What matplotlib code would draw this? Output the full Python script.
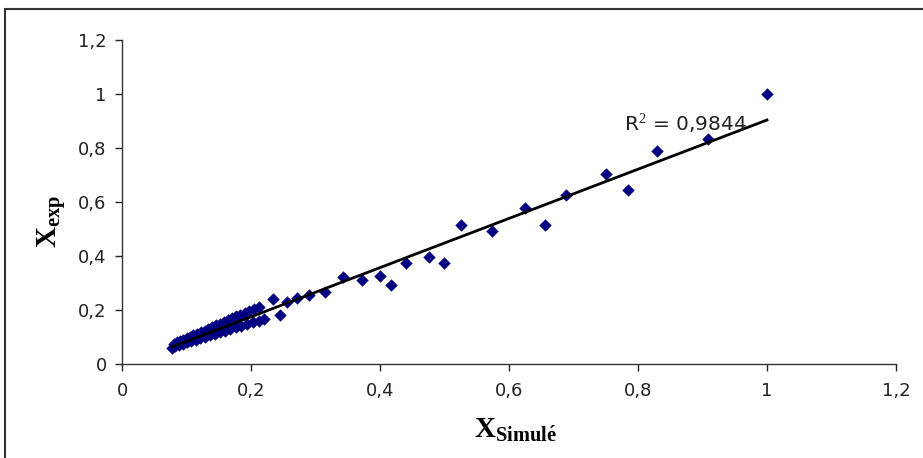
import numpy as np
import matplotlib
matplotlib.use("Agg")
from matplotlib import pyplot as plt
from matplotlib.patches import Rectangle

plt.rcParams['font.family'] = ['DejaVu Sans']
plt.rcParams['mathtext.fontset'] = 'custom'
plt.rcParams['mathtext.rm'] = 'Liberation Serif'
plt.rcParams['mathtext.bf'] = 'Liberation Serif:bold'

# dense cluster, upper and lower branch
x_upper = [0.080, 0.085, 0.090, 0.095, 0.100, 0.105, 0.110, 0.116, 0.122, 0.128, 0.134, 0.140,
           0.146, 0.152, 0.158, 0.164, 0.170, 0.176, 0.183, 0.190, 0.197, 0.205, 0.213]
y_upper = [0.075, 0.080, 0.085, 0.090, 0.095, 0.100, 0.106, 0.112, 0.118, 0.124, 0.130, 0.137,
           0.143, 0.150, 0.156, 0.163, 0.169, 0.176, 0.183, 0.190, 0.196, 0.203, 0.210]
x_lower = [0.078, 0.082, 0.088, 0.094, 0.100, 0.107, 0.114, 0.121, 0.128, 0.136, 0.144, 0.152,
           0.160, 0.168, 0.176, 0.185, 0.194, 0.203, 0.212, 0.220]
y_lower = [0.060, 0.065, 0.070, 0.075, 0.080, 0.085, 0.090, 0.095, 0.100, 0.106, 0.112, 0.118,
           0.124, 0.130, 0.136, 0.142, 0.149, 0.155, 0.161, 0.167]
# scattered points
x_rest = [0.234, 0.245, 0.256, 0.271, 0.290, 0.315, 0.343, 0.372, 0.400, 0.417, 0.440, 0.476,
          0.499, 0.525, 0.574, 0.625, 0.656, 0.688, 0.750, 0.784, 0.829, 0.909, 1.000]
y_rest = [0.242, 0.180, 0.230, 0.245, 0.254, 0.267, 0.322, 0.311, 0.326, 0.293, 0.374, 0.396,
          0.374, 0.515, 0.493, 0.578, 0.515, 0.626, 0.704, 0.644, 0.789, 0.833, 1.000]

ticks = [0, 0.2, 0.4, 0.6, 0.8, 1.0, 1.2]
tick_labels = ['0', '0,2', '0,4', '0,6', '0,8', '1', '1,2']

x_sim = np.array(x_upper + x_lower + x_rest)
x_exp = np.array(y_upper + y_lower + y_rest)

fig = plt.figure(figsize=(9.23, 4.58), dpi=100)
ax = fig.add_axes([0.1322, 0.2052, 0.8385, 0.7075])

ax.scatter(x_sim, x_exp, marker='D', s=40, color='#000080', zorder=3, linewidths=0)

# linear trend line
a, b = np.polyfit(x_sim, x_exp, 1)
xl = np.array([x_sim.min(), x_sim.max()])
ax.plot(xl, a * xl + b, color='black', lw=2, zorder=4)
ax.text(0.778, 0.892, 'R$^2$ = 0,9844', fontsize=14.5, color='#222222', va='center', ha='left',
        zorder=5, family='DejaVu Sans')

ax.set_xlim(0, 1.2)
ax.set_ylim(0, 1.2)
ax.set_xticks(ticks)
ax.set_xticklabels(tick_labels)
ax.set_yticks(ticks)
ax.set_yticklabels(tick_labels)
ax.tick_params(direction='out', length=5, width=1, labelsize=13, colors='#222222', pad=6)
ax.tick_params(axis='x', pad=8)
for s in ['top', 'right']:
    ax.spines[s].set_visible(False)
for s in ['left', 'bottom']:
    ax.spines[s].set_color('#333333')
    ax.spines[s].set_linewidth(1)

ax.set_xlabel(r'$\mathbf{X_{Simul\acute{e}}}$', fontsize=21)
ax.set_ylabel(r'$\mathbf{X_{exp}}$', fontsize=21)
ax.xaxis.set_label_coords(0.508, -0.16)
ax.yaxis.set_label_coords(-0.07, 0.44)

# outer frame
fig.patches.append(Rectangle((5 / 923, -0.2), 1.2, 1.2 - 9 / 458, transform=fig.transFigure,
                             fill=False, edgecolor='#333333', lw=1.5))

fig.savefig('out.png', dpi=100)
